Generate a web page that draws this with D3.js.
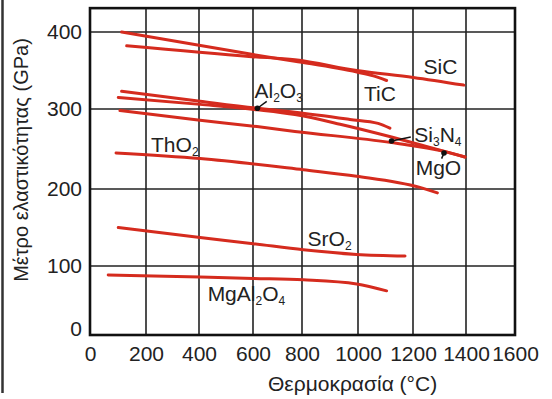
<!DOCTYPE html>
<html>
<head>
<meta charset="utf-8">
<script src="https://cdn.jsdelivr.net/npm/d3@7"></script>
<style>
  html, body { margin: 0; padding: 0; background: #fff; }
  svg { display: block; font-family: "Liberation Sans", Arial, sans-serif; }
</style>
</head>
<body>
<div id="chart"></div>
<script>
// axis ticks
const tempTicks = [0, 200, 400, 600, 800, 1000, 1200, 1400, 1600];
const modulusTicks = [0, 100, 200, 300, 400];

// [temperature °C, modulus GPa]
const sic = [[131, 382], [595, 368], [771, 364], [996, 350], [1201, 341], [1392, 331]];
const tic = [[113, 400], [595, 371], [771, 362], [996, 348], [1056, 343], [1104, 337]];
const al2o3 = [[113, 323], [404, 310], [616, 301], [771, 296], [971, 287], [1073, 282], [1116, 276]];
const si3n4 = [[101, 315], [404, 306], [616, 299], [771, 293], [936, 281], [1122, 265], [1264, 252], [1396, 240]];
const mgo = [[107, 298], [404, 286], [616, 278], [771, 272], [1122, 258], [1317, 247], [1396, 240]];
const tho2 = [[93, 245], [404, 238], [805, 224], [995, 216], [1226, 202], [1292, 195]];
const sro2 = [[101, 150], [404, 137], [601, 129], [805, 121], [995, 115], [1171, 113]];
const mgal2o4 = [[65, 87], [404, 84], [601, 82], [805, 80], [995, 74], [1104, 64]];

const series = [sic, tic, al2o3, si3n4, mgo, tho2, sro2, mgal2o4];

// labels: text parts ([text, isSubscript]), anchor in data units
const labels = [
    { parts: [['SiC', 0]], t: 1240, e: 345 },
    { parts: [['TiC', 0]], t: 1022, e: 310 },
    { parts: [['Al', 0], ['2', 1], ['O', 0], ['3', 1]], t: 606, e: 314 },
    { parts: [['Si', 0], ['3', 1], ['N', 0], ['4', 1]], t: 1205, e: 259 },
    { parts: [['MgO', 0]], t: 1210, e: 217 },
    { parts: [['ThO', 0], ['2', 1]], t: 219, e: 246 },
    { parts: [['SrO', 0], ['2', 1]], t: 820, e: 126 },
    { parts: [['MgAl', 0], ['2', 1], ['O', 0], ['4', 1]], t: 432, e: 49 }
];

// pointer dots with leader lines: [dotT, dotE, endT, endE]
const pointers = [
    [618, 301, 656, 310],
    [1122, 260, 1192, 265],
    [1317, 245, 1308, 238]
];

const width = 552, height = 399;
const red = '#d52b1e';
const fontSize = 21;

const svg = d3.select('#chart')
    .append('svg')
    .attr('width', width)
    .attr('height', height);

// the scanned grid is slightly uneven, so map every gridline
const x = d3.scaleLinear()
    .domain(tempTicks)
    .range([90, 146, 199, 253, 302, 358, 413, 466, 515]);

const y = d3.scaleLinear()
    .domain(modulusTicks)
    .range([335, 266, 189, 109, 32]);

const yTop = y(431);

// scan border on the far left
svg.append('line')
    .attr('x1', 2.5).attr('x2', 2.5)
    .attr('y1', 0).attr('y2', 393)
    .attr('stroke', '#333')
    .attr('stroke-width', 2.5);

// grid
const grid = svg.append('g').attr('stroke', '#222').attr('stroke-width', 1.6);
grid.selectAll('.vx')
    .data(tempTicks.slice(1, -1))
    .enter()
    .append('line')
    .attr('x1', (d) => x(d)).attr('x2', (d) => x(d))
    .attr('y1', yTop).attr('y2', y(0));
grid.selectAll('.hy')
    .data(modulusTicks.slice(1))
    .enter()
    .append('line')
    .attr('x1', x(0)).attr('x2', x(1600))
    .attr('y1', (d) => y(d)).attr('y2', (d) => y(d));

// curves
const line = d3.line()
    .x((d) => x(d[0]))
    .y((d) => y(d[1]))
    .curve(d3.curveMonotoneX);

svg.append('g')
    .selectAll('path')
    .data(series)
    .enter()
    .append('path')
    .attr('d', line)
    .attr('fill', 'none')
    .attr('stroke', red)
    .attr('stroke-width', 3)
    .attr('stroke-linecap', 'round');

// frame
svg.append('rect')
    .attr('x', x(0))
    .attr('y', yTop)
    .attr('width', x(1600) - x(0))
    .attr('height', y(0) - yTop)
    .attr('fill', 'none')
    .attr('stroke', '#111')
    .attr('stroke-width', 2.6);

// axes (labels only)
const xAxis = svg.append('g')
    .attr('transform', `translate(0,${y(0)})`)
    .call(d3.axisBottom(x).tickValues(tempTicks).tickFormat(d3.format('d')).tickSize(0).tickPadding(11));
const yAxis = svg.append('g')
    .attr('transform', `translate(${x(0)},0)`)
    .call(d3.axisLeft(y).tickValues(modulusTicks).tickFormat(d3.format('d')).tickSize(0).tickPadding(8));

[xAxis, yAxis].forEach((a) => {
    a.select('.domain').remove();
    a.selectAll('text')
        .attr('font-family', '"Liberation Sans", Arial, sans-serif')
        .attr('font-size', fontSize)
        .attr('fill', '#222');
});
yAxis.selectAll('.tick')
    .filter((d) => d === 0)
    .select('text')
    .attr('y', -6);

// axis titles
svg.append('text')
    .attr('x', 268)
    .attr('y', 391)
    .attr('font-size', fontSize)
    .attr('fill', '#222')
    .text('Θερμοκρασία (°C)');

svg.append('text')
    .attr('transform', 'translate(28,160) rotate(-90)')
    .attr('text-anchor', 'middle')
    .attr('font-size', 20)
    .attr('fill', '#222')
    .text('Μέτρο ελαστικότητας (GPa)');

// pointers
const ptr = svg.append('g');
ptr.selectAll('line')
    .data(pointers)
    .enter()
    .append('line')
    .attr('x1', (d) => x(d[0])).attr('y1', (d) => y(d[1]))
    .attr('x2', (d) => x(d[2])).attr('y2', (d) => y(d[3]))
    .attr('stroke', '#111')
    .attr('stroke-width', 1.5);
ptr.selectAll('circle')
    .data(pointers)
    .enter()
    .append('circle')
    .attr('cx', (d) => x(d[0])).attr('cy', (d) => y(d[1]))
    .attr('r', 2.8)
    .attr('fill', '#111');

// material labels
const lbl = svg.append('g')
    .selectAll('text')
    .data(labels)
    .enter()
    .append('text')
    .attr('x', (d) => x(d.t))
    .attr('y', (d) => y(d.e))
    .attr('font-size', fontSize)
    .attr('fill', '#222');

lbl.each(function (d) {
    const t = d3.select(this);
    let sub = false;
    d.parts.forEach(([s, isSub]) => {
        const dy = isSub && !sub ? 4 : !isSub && sub ? -4 : 0;
        t.append('tspan')
            .attr('dy', dy)
            .attr('font-size', isSub ? 12 : fontSize)
            .text(s);
        sub = !!isSub;
    });
});
</script>
</body>
</html>
